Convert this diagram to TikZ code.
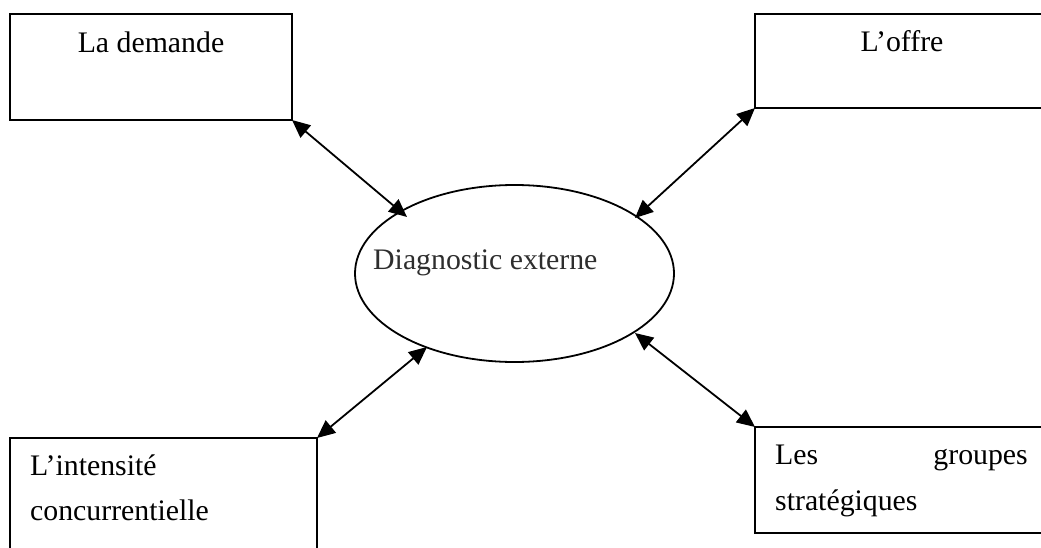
\documentclass[tikz,border=0pt]{standalone}
\usepackage{fontspec}
\setmainfont{Liberation Serif}
\usetikzlibrary{shapes.geometric,arrows.meta}
\begin{document}
\begin{tikzpicture}[x=1pt,y=-1pt,
  box/.style={draw,line width=2.3pt,anchor=north west,inner sep=0pt,outer sep=0pt},
  txt/.style={inner sep=0pt,font=\fontsize{29.8}{35}\selectfont},
  link/.style={line width=1.8pt,{Triangle[length=18pt,width=16pt]}-{Triangle[length=18pt,width=16pt]}}]
\useasboundingbox (0,0) rectangle (1041,548);
% boxes
\node[box,minimum width=282pt,minimum height=106pt] (tl) at (10,14) {};
\node[box,minimum width=290pt,minimum height=94pt] (tr) at (755,14) {};
\node[box,minimum width=307pt,minimum height=114pt] (bl) at (10,438) {};
\node[box,minimum width=290pt,minimum height=106pt] (br) at (755,427) {};
% ellipse
\node[draw,ellipse,line width=1.8pt,minimum width=319pt,minimum height=177pt,inner sep=0pt] (ell) at (514.5,273.5) {};
% texts
\node[txt,anchor=base] (t1) at (151,53) {La demande};
\node[txt,anchor=base] (t2) at (902,52) {L’offre};
\node[txt,anchor=base west] (t3) at (30,475) {L’intensité};
\node[txt,anchor=base west] (t4) at (30,520) {concurrentielle};
\node[txt,anchor=base west] (t5) at (775,464) {Les};
\node[txt,anchor=base east] (t6) at (1028,464) {groupes};
\node[txt,anchor=base west] (t7) at (775,510) {stratégiques};
\node[txt,anchor=base west,text=black!82] (t8) at (373,269) {Diagnostic externe};
% connector ends on the ellipse
\coordinate (e1) at (407,217);
\coordinate (e2) at (635,218);
\coordinate (e3) at (427,347);
\coordinate (e4) at (635,333);
\draw[link] (tl.south east) -- (e1);
\draw[link] (tr.south west) -- (e2);
\draw[link] (bl.north east) -- (e3);
\draw[link] (br.north west) -- (e4);
\end{tikzpicture}
\end{document}
